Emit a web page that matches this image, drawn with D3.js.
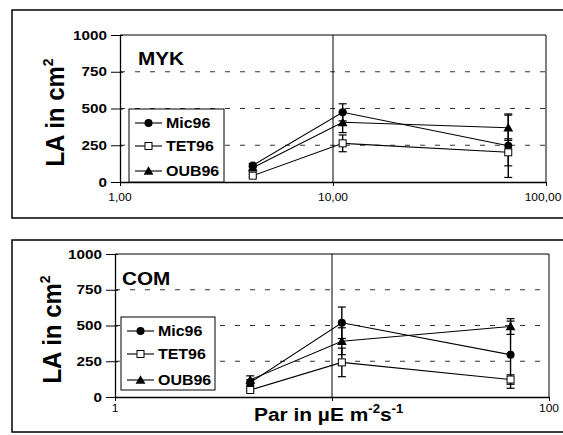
<!DOCTYPE html>
<html>
<head>
<meta charset="utf-8">
<script src="https://cdn.jsdelivr.net/npm/d3@7"></script>
<style>
  body { margin: 0; background: #fff; }
  svg { display: block; font-family: 'Liberation Sans', Arial, sans-serif; }
</style>
</head>
<body>
<svg id="chart" width="563" height="435"></svg>
<script>
// light levels (Par, log scale) shared by both panels
const par = [4.2, 11.1, 66.5];
const seriesNames = ['Mic96', 'TET96', 'OUB96'];
const yTicks = [0, 250, 500, 750, 1000];

// MYK panel
const mykMic = [113, 474, 247];
const mykTet = [43, 263, 202];
const mykOub = [97, 406, 369];
const mykMicErr = [12, 58, 216];
const mykTetErr = [8, 57, 92];
const mykOubErr = [10, 70, 86];
const mykTickLabels = ['1,00', '10,00', '100,00'];

// COM panel
const comMic = [101, 519, 296];
const comTet = [49, 242, 122];
const comOub = [120, 390, 493];
const comMicErr = [20, 110, 235];
const comTetErr = [10, 100, 33];
const comOubErr = [28, 94, 55];
const comTickLabels = ['1', '', '100'];

const svg = d3.select('#chart');

// the scanned original is a little wide, so text gets a horizontal stretch
function stext(g, x, y, str, size, o) {
  o = o || {};
  const t = g.append('text')
    .attr('transform', `translate(${x},${y}) scale(${o.sx || 1},1)` + (o.rot ? ` rotate(${o.rot})` : ''))
    .attr('font-size', size)
    .attr('font-weight', o.bold ? 'bold' : 'normal')
    .attr('text-anchor', o.anchor || 'start')
    .attr('fill', '#000');
  if (str !== null) t.text(str);
  return t;
}

function marker(g, type, x, y) {
  if (type === 'circle') {
    g.append('circle').attr('cx', x).attr('cy', y).attr('r', 4).attr('fill', '#000');
  } else if (type === 'square') {
    g.append('rect').attr('x', x - 3.5).attr('y', y - 3.5).attr('width', 7).attr('height', 7)
      .attr('fill', '#fff').attr('stroke', '#000').attr('stroke-width', 1);
  } else {
    g.append('path').attr('d', d3.symbol(d3.symbolTriangle, 42)())
      .attr('transform', `translate(${x},${y + 1})`).attr('fill', '#000');
  }
}

function drawPanel(p) {
  const g = svg.append('g');

  g.append('rect')
    .attr('x', p.frame[0]).attr('y', p.frame[1])
    .attr('width', 600).attr('height', p.frame[2] - p.frame[1])
    .attr('fill', 'none').attr('stroke', '#000').attr('stroke-width', 1.5);

  const x = d3.scaleLog().domain([1, 100]).range([p.left, p.right]);
  const y = d3.scaleLinear().domain([0, 1000]).range([p.bottom, p.top]);

  // dashed horizontal gridlines
  g.selectAll('.grid')
    .data([250, 500, 750])
    .enter()
    .append('line')
    .attr('x1', p.left).attr('x2', p.right)
    .attr('y1', (d) => y(d)).attr('y2', (d) => y(d))
    .attr('stroke', '#333').attr('stroke-width', 1)
    .attr('stroke-dasharray', '5,10');

  // plot border (top and right) + vertical gridline at 10
  g.append('path')
    .attr('d', `M${p.left},${y(1000)}H${p.right}V${p.bottom}`)
    .attr('fill', 'none').attr('stroke', '#000').attr('stroke-width', 1);
  g.append('line')
    .attr('x1', x(10)).attr('x2', x(10)).attr('y1', y(1000)).attr('y2', p.bottom)
    .attr('stroke', '#000').attr('stroke-width', 1);

  // y axis
  const ya = g.append('g')
    .attr('transform', `translate(${p.left},0)`)
    .call(d3.axisLeft(y).tickValues(yTicks).tickSize(9).tickSizeOuter(0).tickFormat(''));
  ya.select('.domain').attr('stroke-width', 1.3);
  ya.selectAll('.tick line').attr('x2', 3).attr('x1', -9);
  yTicks.forEach((v) => {
    stext(g, p.left - 13, y(v) + 4.5, String(v), 12.5, { bold: true, anchor: 'end', sx: 1.22 });
  });

  // x axis
  const xa = g.append('g')
    .attr('transform', `translate(0,${p.bottom})`)
    .call(d3.axisBottom(x).tickValues([1, 10, 100]).tickSize(4).tickSizeOuter(0).tickFormat(''));
  xa.select('.domain').attr('stroke-width', 1.3);
  [1, 10, 100].forEach((v, i) => {
    const lab = p.tickLabels[i];
    if (lab) {
      // the long right-hand label is pulled in so it stays on the page
      const lx = lab.length > 4 ? Math.min(x(v), 543) : x(v);
      stext(g, lx, p.bottom + p.tickDy, lab, 10, { anchor: 'middle', sx: 1.2 });
    }
  });

  // y title
  const yt = stext(g, p.yTitleX, (p.top + p.bottom) / 2 + 4, null, 24, { bold: true, anchor: 'middle', rot: -90, sx: 1.1 });
  yt.append('tspan').text('LA in cm');
  yt.append('tspan').attr('font-size', 14).attr('dy', -10).text('2');

  // panel name
  stext(g, p.nameX, p.nameY, p.name, 18, { bold: true, sx: 1.15 });

  const line = d3.line().x((d) => x(d[0])).y((d) => y(d[1]));
  const types = ['circle', 'square', 'triangle'];

  // error bars
  p.series.forEach((s) => {
    s.vals.forEach((v, i) => {
      const cx = x(par[i]);
      const lo = y(v - s.err[i]);
      const hi = y(v + s.err[i]);
      g.append('line').attr('x1', cx).attr('x2', cx).attr('y1', lo).attr('y2', hi)
        .attr('stroke', '#000').attr('stroke-width', 1.4);
      [lo, hi].forEach((cy) => {
        g.append('line').attr('x1', cx - 4).attr('x2', cx + 4).attr('y1', cy).attr('y2', cy)
          .attr('stroke', '#000').attr('stroke-width', 1.2);
      });
    });
  });

  p.series.forEach((s) => {
    g.append('path')
      .datum(s.vals.map((v, i) => [par[i], v]))
      .attr('d', line)
      .attr('fill', 'none').attr('stroke', '#000').attr('stroke-width', 1.1);
  });
  p.series.forEach((s, k) => {
    s.vals.forEach((v, i) => marker(g, types[k], x(par[i]), y(v)));
  });

  // legend
  const L = p.legend;
  g.append('rect').attr('x', L.x).attr('y', L.y).attr('width', L.w).attr('height', L.h)
    .attr('fill', '#fff').attr('stroke', '#000').attr('stroke-width', 1);
  seriesNames.forEach((name, k) => {
    const ly = L.rows[k];
    g.append('line').attr('x1', L.x + 6).attr('x2', L.x + 33).attr('y1', ly).attr('y2', ly)
      .attr('stroke', '#000').attr('stroke-width', 1.1);
    marker(g, types[k], L.x + 19.5, ly);
    stext(g, L.x + 37, ly + 5, name, 14.5, { bold: true, sx: 1.1 });
  });

  return { x, y };
}

drawPanel({
  name: 'MYK', nameX: 138, nameY: 65,
  frame: [12, 10, 218],
  left: 120, right: 546, top: 35, bottom: 182,
  tickLabels: mykTickLabels, tickDy: 19,
  yTitleX: 64,
  series: [
    { vals: mykMic, err: mykMicErr },
    { vals: mykTet, err: mykTetErr },
    { vals: mykOub, err: mykOubErr }
  ],
  legend: { x: 129, y: 109, w: 95, h: 73, rows: [123, 146, 171] }
});

drawPanel({
  name: 'COM', nameX: 122, nameY: 285,
  frame: [12, 240, 432],
  left: 115, right: 549, top: 254, bottom: 397,
  tickLabels: comTickLabels, tickDy: 15,
  yTitleX: 61,
  series: [
    { vals: comMic, err: comMicErr },
    { vals: comTet, err: comTetErr },
    { vals: comOub, err: comOubErr }
  ],
  legend: { x: 121, y: 317, w: 94, h: 73, rows: [331, 354, 380] }
});

// x title (bottom panel only)
const xt = stext(svg, 254, 421, null, 19, { bold: true, sx: 1.1 });
xt.append('tspan').text('Par in µE m');
xt.append('tspan').attr('font-size', 12).attr('dy', -8).text('-2');
xt.append('tspan').attr('dy', 8).text('s');
xt.append('tspan').attr('font-size', 12).attr('dy', -8).text('-1');
</script>
</body>
</html>
